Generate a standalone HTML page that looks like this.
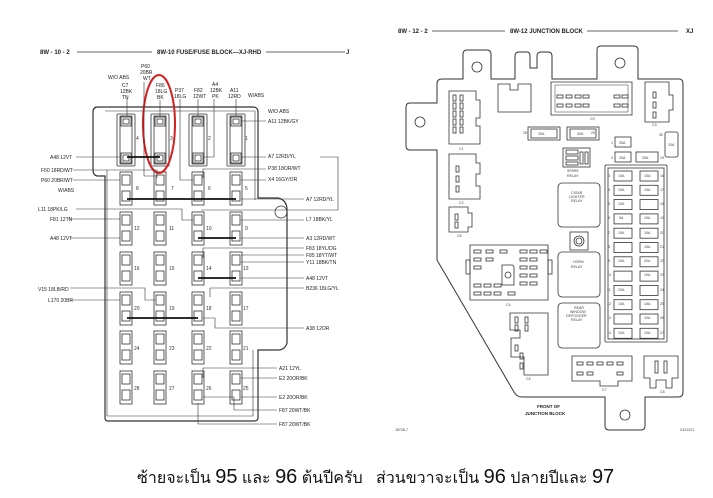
<!DOCTYPE html>
<html><head><meta charset="utf-8"><style>
html,body{margin:0;padding:0;background:#fff;}
svg{display:block}
.t{font-family:"Liberation Sans",sans-serif;font-size:5px;fill:#222;}
.h{font-family:"Liberation Sans",sans-serif;font-size:6px;font-weight:bold;fill:#222;}
.n{font-family:"Liberation Sans",sans-serif;font-size:5px;fill:#333;}
.s{font-family:"Liberation Sans",sans-serif;font-size:3.6px;fill:#444;}
</style></head><body>
<svg id="sv" width="713" height="498" viewBox="0 0 713 498" xmlns="http://www.w3.org/2000/svg">
<rect width="713" height="498" fill="#fff"/>
<g stroke="#333" fill="none" stroke-width="0.8">
<line x1="77" y1="52" x2="152" y2="52"/><line x1="266" y1="52" x2="345" y2="52"/>
<path d="M93,112 Q93,107 98,107 L253,107 Q258,107 258,112 L258,198 L278,198 Q287,200 287,210 L287,343 Q285,350 278,350 L258,350 L258,418 Q258,421 254,421 L108,421 Q105,421 105,418 L105,176 L97,176 Q93,175 93,170 Z" stroke-width="1.2"/>
<path d="M105,111 L255,111 L255,200 M107,170 L107,416 L253,416 L253,350" stroke-width="0.6"/>
<circle cx="281" cy="212" r="6"/>
<line x1="432" y1="31" x2="505" y2="31"/><line x1="587" y1="31" x2="678" y2="31"/>
<path d="M437,84 Q437,79 442,79 L463,79 L463,54 Q463,50 467,50 L487,50 Q491,50 491,54 L491,79 L515,79 L515,56 Q515,52 519,52 L527,52 Q530,52 530,56 L530,68 L537,68 L537,56 Q537,52 541,52 L548,52 Q552,52 552,56 L552,79 L597,79 L597,50 Q597,46 601,46 L634,46 Q638,46 638,50 L638,79 L679,79 Q683,79 683,84 L683,392 Q683,397 678,397 L645,397 L645,426 Q645,430 641,430 L609,430 Q605,430 605,426 L605,397 L522,397 Q517,397 514,392 L437,260 L437,150 L410,150 Q406,150 406,146 L406,107 Q406,103 410,103 L437,103 Z" stroke-width="1"/>
<circle cx="420" cy="122" r="5"/><circle cx="477" cy="67" r="5"/><circle cx="620" cy="63" r="5"/><circle cx="625" cy="415" r="5"/>
<rect x="605" y="165" width="62" height="177" rx="1"/><rect x="608" y="168" width="56" height="171"/>
<rect x="528" y="127" width="32" height="13"/><rect x="531" y="129" width="26" height="9"/>
<rect x="567" y="127" width="32" height="13"/><rect x="570" y="129" width="26" height="9"/>
<rect x="615" y="137" width="16" height="10"/><rect x="615" y="152" width="16" height="10"/><rect x="636" y="152" width="22" height="10"/>
<rect x="665" y="132" width="13" height="25" rx="2"/>
<rect x="563" y="148" width="27" height="19"/><rect x="566" y="150" width="12" height="4"/><rect x="566" y="156" width="12" height="4"/><rect x="566" y="162" width="12" height="3"/><rect x="580" y="152" width="3" height="12"/><rect x="585" y="152" width="3" height="12"/>
<rect x="558" y="183" width="42" height="44" rx="4"/>
<rect x="558" y="252" width="42" height="45" rx="4"/>
<rect x="558" y="303" width="42" height="45" rx="4"/>
<rect x="570" y="232" width="18" height="18"/><circle cx="579" cy="241" r="5"/><circle cx="579" cy="241" r="3"/>
<path d="M449,91 L476,91 L476,100 L480,100 L480,118 L476,118 L476,126 L480,126 L480,144 L449,144 Z"/>
<path d="M449,154 L476,154 L476,163 L480,163 L480,174 L476,174 L476,186 L480,186 L480,199 L449,199 Z"/>
<path d="M449,207 L468,207 L468,213 L472,213 L472,227 L468,227 L468,232 L449,232 Z"/>
<path d="M470,245 L548,245 L548,300 L470,300 Z"/><rect x="466" y="260" width="4" height="14"/><rect x="548" y="260" width="4" height="14"/>
<path d="M502,265 L512,265 Q514,265 514,268 L514,285 L502,285 Z"/><circle cx="508" cy="275" r="3"/>
<path d="M510,313 L548,313 L548,375 L524,375 L524,357 L511,357 L511,338 L520,338 L520,330 L510,330 Z"/>
<path d="M572,356 L632,356 L632,381 L618,381 L618,386 L600,386 L600,381 L572,381 Z"/>
<path d="M644,356 L678,356 L678,378 L672,378 L672,388 L666,388 L666,380 L656,380 L656,388 L650,388 L650,378 L644,378 Z"/>
<path d="M498,84 L510,84 L510,90 L518,90 L518,84 L531,84 L531,112 L498,112 Z"/>
<path d="M551,82 L632,82 L632,115 L551,115 Z"/><path d="M555,85 L628,85 L628,112 L555,112 Z" stroke-width="0.5"/>
<path d="M645,82 L669,82 L669,95 L673,95 L673,110 L669,110 L669,122 L645,122 Z"/>
</g>
<g id="dyn" stroke="#333" fill="none" stroke-width="0.8"></g>
<ellipse cx="159" cy="124" rx="16" ry="49" fill="none" stroke="#d62020" stroke-width="2"/>
<text class="h" x="40" y="54">8W - 10 - 2</text>
<text class="h" x="157" y="54">8W-10 FUSE/FUSE BLOCK—XJ-RHD</text>
<text class="h" x="346" y="54">J</text>
<g class="t">
<text x="141" y="68">P60</text><text x="140" y="74">20BR</text><text x="143" y="80">WT</text>
<text x="108" y="79">W/O ABS</text>
<text x="122" y="87">C7</text><text x="120" y="93">12BK</text><text x="122" y="99">TN</text>
<text x="156" y="87">F86</text><text x="155" y="93">18LG</text><text x="157" y="99">BK</text>
<text x="175" y="92">P37</text><text x="174" y="98">18LG</text>
<text x="194" y="92">F82</text><text x="193" y="98">12WT</text>
<text x="212" y="86">A4</text><text x="210" y="92">12BK</text><text x="212" y="98">PK</text>
<text x="230" y="92">A11</text><text x="228" y="98">12RD</text>
<text x="248" y="97">W/ABS</text>
<text x="50" y="159">A48 12VT</text>
<text x="41" y="172">F60 18RD/WT</text>
<text x="41" y="182">P60 20BR/WT</text>
<text x="58" y="192">W/ABS</text>
<text x="38" y="211">L11 18PK/LG</text>
<text x="50" y="221">F81 12TN</text>
<text x="50" y="240">A48 12VT</text>
<text x="38" y="291">V15 18LB/RD</text>
<text x="48" y="302">L170 20BR</text>
<text x="268" y="113">W/O ABS</text>
<text x="268" y="123">A11 12BK/GY</text>
<text x="268" y="158">A7 12RD/YL</text>
<text x="268" y="170">P38 18OR/WT</text>
<text x="268" y="181">X4 16GY/OR</text>
<text x="306" y="201">A7 12RD/YL</text>
<text x="306" y="221">L7 18BK/YL</text>
<text x="306" y="240">A3 12RD/WT</text>
<text x="306" y="250">F83 18YL/DG</text>
<text x="306" y="257">F85 18YT/WT</text>
<text x="306" y="264">Y11 18BK/TN</text>
<text x="306" y="280">A48 12VT</text>
<text x="306" y="290">B236 18LG/YL</text>
<text x="306" y="330">A38 12OR</text>
<text x="279" y="370">A21 12YL</text>
<text x="279" y="380">E2 20OR/BK</text>
<text x="279" y="399">E2 20OR/BK</text>
<text x="279" y="412">F87 20WT/BK</text>
<text x="279" y="426">F87 20WT/BK</text>
</g>
<g stroke="#333" stroke-width="0.6" fill="none">
<path d="M76,157 L120,157 M73,170 L157,170 L157,178 M73,180 L120,180 M76,209 L182,209 L182,220 L193,220 M68,219 L120,219 M70,238 L120,238 M70,288 L145,288 L145,300 L155,300 M70,300 L120,300"/>
<path d="M266,121 L241,121 M266,157 L241,157 M320,157 L338,157 L338,210 L201,210 M266,169 L203,169 L203,178 M266,180 L241,180 M304,199 L241,199 M304,220 L241,220 M304,238 L241,238 M304,248 L203,248 L203,258 M304,255 L241,255 M304,262 L241,262 M304,278 L241,278 M304,288 L210,288 L210,297 M304,328 L215,328 L215,318 L203,318 M277,368 L203,368 L203,378 M277,378 L241,378 M277,397 L241,397 M277,410 L234,410 L234,397 L203,397 M277,424 L198,424 L198,403"/>
<path d="M127,98 L127,116 M160,100 L160,116 M198,99 L198,116 M214,99 L214,157 L203,157 M236,99 L236,116 M180,99 L180,180 L193,180 M144,82 L144,176 L155,176"/>
</g>
<g stroke="#111" stroke-width="1.8">
<line x1="127" y1="157" x2="160" y2="157"/><line x1="127" y1="199" x2="236" y2="199"/><line x1="198" y1="238" x2="236" y2="238"/><line x1="198" y1="278" x2="236" y2="278"/><line x1="127" y1="318" x2="198" y2="318"/>
</g>
<g class="n">
<text x="136" y="140">4</text><text x="170" y="140">3</text><text x="208" y="140">2</text><text x="245" y="140">1</text>
<text x="136" y="190">8</text><text x="171" y="190">7</text><text x="208" y="190">6</text><text x="245" y="190">5</text>
<text x="134" y="230">12</text><text x="169" y="230">11</text><text x="206" y="230">10</text><text x="245" y="230">9</text>
<text x="134" y="270">16</text><text x="169" y="270">15</text><text x="206" y="270">14</text><text x="243" y="270">13</text>
<text x="134" y="310">20</text><text x="169" y="310">19</text><text x="206" y="310">18</text><text x="243" y="310">17</text>
<text x="134" y="350">24</text><text x="169" y="350">23</text><text x="206" y="350">22</text><text x="243" y="350">21</text>
<text x="134" y="390">28</text><text x="169" y="390">27</text><text x="206" y="390">26</text><text x="243" y="390">25</text>
</g>
<text class="h" x="398" y="33">8W - 12 - 2</text>
<text class="h" x="510" y="33">8W-12 JUNCTION BLOCK</text>
<text class="h" x="686" y="33">XJ</text>
<g class="s">
<text x="523" y="134">28</text><text x="538" y="135">30A</text><text x="577" y="135">30A</text><text x="591" y="134">29</text>
<text x="611" y="144">1</text><text x="619" y="144">25A</text>
<text x="611" y="159">2</text><text x="619" y="159">25A</text><text x="642" y="159">25A</text><text x="660" y="159">15</text>
<text x="659" y="136">30</text><text x="668" y="146">20A</text>
<text x="567" y="172">SPARE</text><text x="567" y="177">RELAY</text>
<text x="571" y="194">CIGAR</text><text x="569" y="198">LIGHTER</text><text x="571" y="202">RELAY</text>
<text x="573" y="263">HORN</text><text x="571" y="268">RELAY</text>
<text x="574" y="309">REAR</text><text x="570" y="313">WINDOW</text><text x="566" y="317">DEFOGGER</text><text x="571" y="321">RELAY</text>
<text x="459" y="150">C1</text><text x="459" y="204">C2</text><text x="457" y="237">C6</text><text x="506" y="306">C4</text><text x="526" y="380">C5</text><text x="602" y="391">C7</text><text x="660" y="393">C8</text><text x="590" y="120">C9</text><text x="652" y="126">C3</text>
<text x="395" y="431">J8708-7</text><text x="680" y="431">XJ01201</text>
</g>
<text class="t" x="537" y="408" style="font-weight:bold;font-size:4.5px">FRONT OF</text>
<text class="t" x="525" y="415" style="font-weight:bold;font-size:4.5px">JUNCTION BLOCK</text>
<g class="s">
<text x="608" y="177">3</text><text x="618" y="177">10A</text><text x="644" y="177">15A</text><text x="660" y="177">16</text>
<text x="608" y="191">4</text><text x="618" y="191">10A</text><text x="644" y="191">15A</text><text x="660" y="191">17</text>
<text x="608" y="205">5</text><text x="618" y="205">10A</text><text x="660" y="205">18</text>
<text x="608" y="219">6</text><text x="619" y="219">5A</text><text x="644" y="219">10A</text><text x="660" y="219">19</text>
<text x="608" y="234">7</text><text x="618" y="234">10A</text><text x="644" y="234">10A</text><text x="660" y="234">20</text>
<text x="608" y="248">8</text><text x="644" y="248">15A</text><text x="660" y="248">21</text>
<text x="608" y="262">9</text><text x="618" y="262">10A</text><text x="644" y="262">20A</text><text x="660" y="262">22</text>
<text x="607" y="276">10</text><text x="644" y="276">10A</text><text x="660" y="276">23</text>
<text x="607" y="291">11</text><text x="618" y="291">20A</text><text x="660" y="291">24</text>
<text x="607" y="305">12</text><text x="618" y="305">10A</text><text x="644" y="305">15A</text><text x="660" y="305">25</text>
<text x="607" y="319">13</text><text x="644" y="319">10A</text><text x="660" y="319">26</text>
<text x="607" y="334">14</text><text x="618" y="334">10A</text><text x="644" y="334">10A</text><text x="660" y="334">27</text>
</g>
<text x="137" y="483" style="font-family:'Liberation Sans','DejaVu Sans',sans-serif;font-size:16px;fill:#111">ซ้ายจะเป็น <tspan style="font-size:20px">95</tspan> และ <tspan style="font-size:20px">96</tspan> ต้นปีครับ&#160;&#160; ส่วนขวาจะเป็น <tspan style="font-size:20px">96</tspan> ปลายปีและ <tspan style="font-size:20px">97</tspan></text>
</svg>
<script>
var g=document.getElementById('dyn'),ns='http://www.w3.org/2000/svg';
function r(x,y,w,h,rx){var e=document.createElementNS(ns,'rect');e.setAttribute('x',x);e.setAttribute('y',y);e.setAttribute('width',w);e.setAttribute('height',h);if(rx)e.setAttribute('rx',rx);g.appendChild(e);}
var xs=[126,160,198,236];
xs.forEach(function(c){r(c-9,114,18,52,1);r(c-6,116,12,48);r(c-5,117,10,9);r(c-5,153,10,10);r(c-3,119,6,5);r(c-3,155,6,6);});
[172,212,252,292,331,371].forEach(function(y){xs.forEach(function(c){r(c-6,y,12,33);r(c-4,y+3,8,10);r(c-4,y+19,8,10);});});
for(var i=0;i<12;i++){var y=171+i*14.3;r(614,y,18,10);r(640,y,18,10);}
[[453,95],[453,103],[453,111],[453,119],[453,127],[460,95],[460,103],[460,111],[460,119],[460,127],[456,166],[456,176],[456,186],[455,214],[455,222]].forEach(function(p){r(p[0],p[1],3,6);});
[[474,250],[486,250],[474,258],[486,258],[474,266],[474,284],[484,284],[494,284],[474,292],[484,292],[494,292],[520,250],[530,250],[540,250],[520,258],[530,258],[520,266],[530,266],[520,274],[530,274],[520,282],[530,282],[508,292],[500,250]].forEach(function(p){r(p[0],p[1],7,3);});
[[557,95],[566,95],[575,95],[583,95],[614,95],[622,95],[557,104],[566,104],[575,104],[583,104],[614,104],[622,104],[577,362],[587,362],[597,362],[607,362],[617,362],[577,372],[587,372],[617,372]].forEach(function(p){r(p[0],p[1],6,3);});
[[515,317],[525,317],[515,325],[525,325],[515,345],[520,353],[520,363]].forEach(function(p){r(p[0],p[1],3,6);});
r(653,92,3,6);r(653,102,3,6);r(653,112,3,6);r(655,361,3,12);r(664,361,3,12);
</script>
</body></html>
